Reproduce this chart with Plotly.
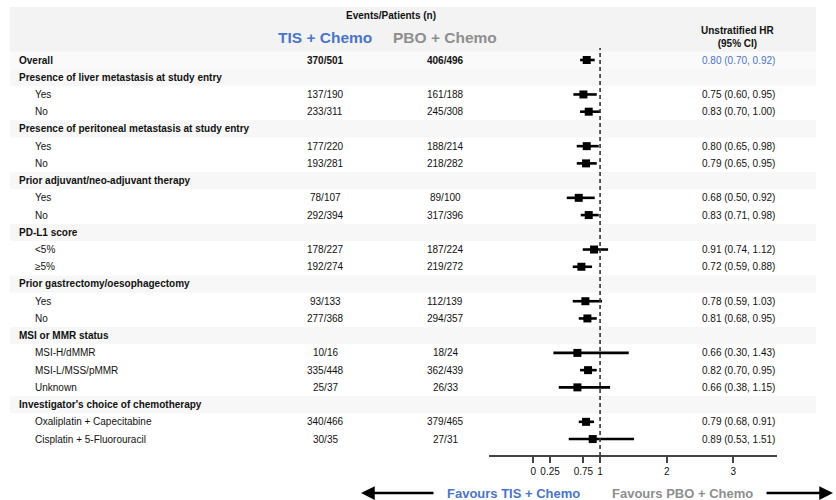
import plotly.graph_objects as go

# ---------------- data ----------------
row_labels = [
    "Overall",
    "Presence of liver metastasis at study entry", "Yes", "No",
    "Presence of peritoneal metastasis at study entry", "Yes", "No",
    "Prior adjuvant/neo-adjuvant therapy", "Yes", "No",
    "PD-L1 score", "<5%", "≥5%",
    "Prior gastrectomy/oesophagectomy", "Yes", "No",
    "MSI or MMR status", "MSI-H/dMMR", "MSI-L/MSS/pMMR", "Unknown",
    "Investigator's choice of chemotherapy", "Oxaliplatin + Capecitabine", "Cisplatin + 5-Fluorouracil",
]
# kind: 'overall', 'header', 'sub'
row_kinds = [
    "overall",
    "header", "sub", "sub",
    "header", "sub", "sub",
    "header", "sub", "sub",
    "header", "sub", "sub",
    "header", "sub", "sub",
    "header", "sub", "sub", "sub",
    "header", "sub", "sub",
]
tis_events = [
    "370/501",
    None, "137/190", "233/311",
    None, "177/220", "193/281",
    None, "78/107", "292/394",
    None, "178/227", "192/274",
    None, "93/133", "277/368",
    None, "10/16", "335/448", "25/37",
    None, "340/466", "30/35",
]
pbo_events = [
    "406/496",
    None, "161/188", "245/308",
    None, "188/214", "218/282",
    None, "89/100", "317/396",
    None, "187/224", "219/272",
    None, "112/139", "294/357",
    None, "18/24", "362/439", "26/33",
    None, "379/465", "27/31",
]
hr = [
    0.80,
    None, 0.75, 0.83,
    None, 0.80, 0.79,
    None, 0.68, 0.83,
    None, 0.91, 0.72,
    None, 0.78, 0.81,
    None, 0.66, 0.82, 0.66,
    None, 0.79, 0.89,
]
ci_low = [
    0.70,
    None, 0.60, 0.70,
    None, 0.65, 0.65,
    None, 0.50, 0.71,
    None, 0.74, 0.59,
    None, 0.59, 0.68,
    None, 0.30, 0.70, 0.38,
    None, 0.68, 0.53,
]
ci_high = [
    0.92,
    None, 0.95, 1.00,
    None, 0.98, 0.95,
    None, 0.92, 0.98,
    None, 1.12, 0.88,
    None, 1.03, 0.95,
    None, 1.43, 0.95, 1.15,
    None, 0.91, 1.51,
]
tick_vals = [0, 0.25, 0.75, 1, 2, 3]
tick_text = ["0", "0.25", "0.75", "1", "2", "3"]

# ---------------- styling ----------------
W, H = 836, 500
FONT = "Liberation Sans, Arial, sans-serif"
BLUE = "#4a75cc"
GREY = "#8e8e8e"
TXT = "#111111"
BAND = "#f7f7f7"

ROW0_PX = 60.0
STEP_PX = 17.23


def px_x(p):
    return p / W


def px_y(p):
    return (H - p) / H


y_top = -ROW0_PX / STEP_PX
y_bot = (H - ROW0_PX) / STEP_PX

fig = go.Figure()

# points with CI
rows_idx = [i for i, v in enumerate(hr) if v is not None]
xs = [hr[i] for i in rows_idx]
plus = [ci_high[i] - hr[i] for i in rows_idx]
minus = [hr[i] - ci_low[i] for i in rows_idx]
fig.add_trace(go.Scatter(
    x=xs, y=rows_idx, mode="markers",
    marker=dict(symbol="square", size=8, color="black"),
    error_x=dict(type="data", symmetric=False, array=plus, arrayminus=minus,
                 color="black", thickness=2.6, width=0),
    hoverinfo="skip", cliponaxis=False,
))

shapes = []
# header band
shapes.append(dict(type="rect", xref="paper", yref="paper",
                   x0=px_x(10), x1=px_x(816), y0=px_y(52), y1=px_y(7),
                   fillcolor="#f3f3f3", line=dict(width=0), layer="below"))
annotations = []


def note(x, y, text, size=10, color=TXT, xanchor="center", yref="paper"):
    return dict(x=x, y=y, xref="paper", yref=yref, text=text, showarrow=False,
                xanchor=xanchor, yanchor="middle",
                font=dict(family=FONT, size=size, color=color))


for i, (lab, kind) in enumerate(zip(row_labels, row_kinds)):
    bold = kind in ("overall", "header")
    if bold:
        shapes.append(dict(type="rect", xref="paper", yref="y",
                           x0=px_x(10), x1=px_x(816), y0=i - 0.5, y1=i + 0.5,
                           fillcolor=BAND if kind == "header" else "#fafafa",
                           line=dict(width=0), layer="below"))
    txt = f"<b>{lab}</b>" if bold else lab
    annotations.append(note(px_x(17 if bold else 33), i, txt, xanchor="left", yref="y"))
    if tis_events[i] is not None:
        t = tis_events[i]
        p = pbo_events[i]
        if kind == "overall":
            t, p = f"<b>{t}</b>", f"<b>{p}</b>"
        annotations.append(note(px_x(325), i, t, yref="y"))
        annotations.append(note(px_x(445), i, p, yref="y"))
    if hr[i] is not None:
        s = f"{hr[i]:.2f} ({ci_low[i]:.2f}, {ci_high[i]:.2f})"
        annotations.append(note(px_x(700), i, s, xanchor="left", yref="y",
                                color=BLUE if kind == "overall" else TXT))

# column headers
annotations += [
    note(px_x(390.5), px_y(15.5), "<b>Events/Patients (n)</b>"),
    note(px_x(325), px_y(37.5), "<b>TIS + Chemo</b>", size=15.5, color=BLUE),
    note(px_x(444.5), px_y(37.5), "<b>PBO + Chemo</b>", size=15.5, color=GREY),
    note(px_x(738), px_y(37), "<b>Unstratified HR</b><br><b>(95% CI)</b>"),
    # favours labels
    note(px_x(513), px_y(493), "<b>Favours TIS + Chemo</b>", size=13, color=BLUE),
    note(px_x(682), px_y(493), "<b>Favours PBO + Chemo</b>", size=13, color=GREY),
    # arrows
    dict(x=px_x(361), y=px_y(493), xref="paper", yref="paper", text="",
         showarrow=True, ax=74, ay=0, arrowhead=2, arrowsize=1.1,
         arrowwidth=2.5, arrowcolor="black"),
    dict(x=px_x(833), y=px_y(493), xref="paper", yref="paper", text="",
         showarrow=True, ax=-68, ay=0, arrowhead=2, arrowsize=1.1,
         arrowwidth=2.5, arrowcolor="black"),
]

# reference line at HR = 1
shapes.append(dict(type="line", xref="x", yref="paper", x0=1, x1=1,
                   y0=px_y(456), y1=px_y(48),
                   line=dict(color="#333333", width=1.6, dash="4px,3px")))

AX_L, AX_R = 489, 777
x_lo, x_hi = -0.666, 3.654

fig.update_layout(
    width=W, height=H,
    margin=dict(l=0, r=0, t=0, b=0),
    paper_bgcolor="white", plot_bgcolor="rgba(0,0,0,0)",
    showlegend=False,
    shapes=shapes, annotations=annotations,
    xaxis=dict(domain=[px_x(AX_L), px_x(AX_R)], range=[x_lo, x_hi],
               anchor="free", position=px_y(456),
               showline=True, linecolor="#444444", linewidth=1.6,
               ticks="outside", ticklen=6, tickwidth=1.5, tickcolor="#444444",
               tickvals=tick_vals, ticktext=tick_text,
               tickfont=dict(family=FONT, size=10, color=TXT),
               showgrid=False, zeroline=False, fixedrange=True),
    yaxis=dict(domain=[0, 1], range=[y_bot, y_top], visible=False,
               showgrid=False, zeroline=False, fixedrange=True),
)

fig.write_html("out.html")
